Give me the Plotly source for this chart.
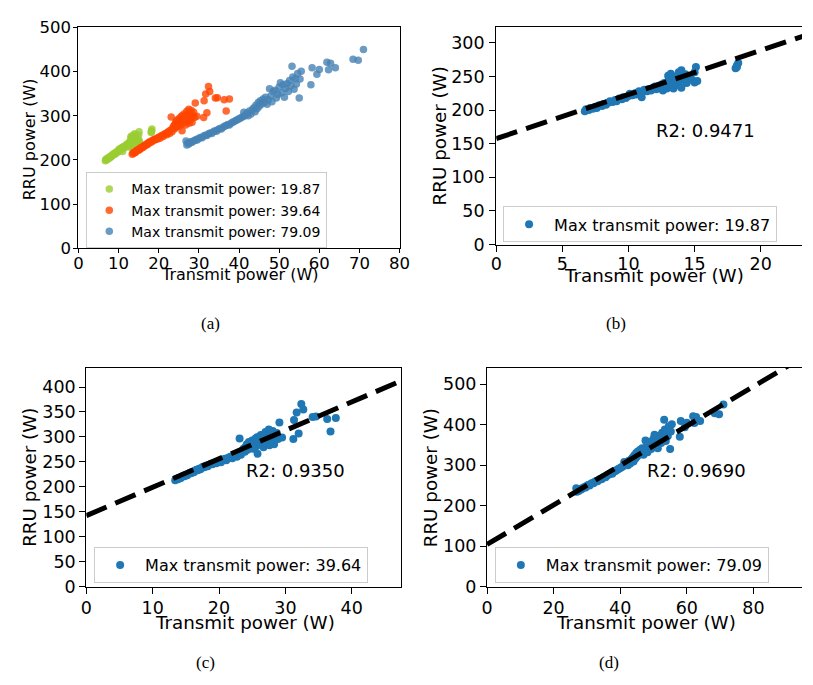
import plotly.graph_objects as go

# ------------------------------------------------------------------
# Measured RRU power vs. transmit power, grouped by max transmit power
# ------------------------------------------------------------------
max_power_labels = ["19.87", "39.64", "79.09"]

tx_19 = [6.7, 6.8, 7.0, 7.1, 7.3, 7.5, 7.6, 7.8, 8.0, 8.1, 8.3, 8.5, 8.6, 8.8,
         9.0, 9.1, 9.3, 9.5, 9.6, 9.8, 10.0, 10.1, 10.3, 10.5, 10.6, 10.8,
         11.0, 11.0, 11.2, 11.4, 11.5, 11.7, 11.9, 12.0, 12.1, 12.3, 12.4,
         12.5, 12.6, 12.7, 12.8, 12.9, 13.0, 13.0, 13.1, 13.2, 13.3, 13.4,
         13.5, 13.6, 13.7, 13.8, 13.9, 14.0, 14.0, 14.2, 14.3, 14.4, 14.6,
         14.8, 15.0, 15.1, 15.2, 15.0, 18.1, 18.2, 18.3, 18.2]
rru_19 = [198, 201, 200, 203, 202, 205, 203, 207, 206, 209, 208, 211, 213, 212,
          215, 213, 217, 216, 219, 218, 221, 224, 222, 225, 223, 228,
          226, 219, 230, 228, 231, 229, 233, 235, 231, 236, 233,
          238, 229, 240, 236, 232, 243, 251, 238, 254, 246, 232,
          241, 250, 237, 256, 244, 259, 233, 248, 253, 240, 250,
          245, 241, 264, 243, 256, 262, 266, 270, 264]

tx_39 = [13.4, 13.6, 13.8, 14.0, 14.2, 14.4, 14.6, 14.8, 15.0, 15.2, 15.4, 15.6,
         15.8, 16.0, 16.2, 16.4, 16.6, 16.8, 17.0, 17.2, 17.4, 17.6, 17.8, 18.0,
         18.3, 18.5, 18.8, 19.0, 19.3, 19.6, 19.8, 20.1, 20.3, 20.6, 20.9, 21.1,
         21.4, 21.7, 22.0, 22.2, 22.5, 22.7, 23.0, 23.1, 23.3, 23.5, 23.7, 23.9,
         24.0, 24.2, 24.3, 24.5, 24.6, 24.8, 25.0, 25.1, 25.3, 25.5, 25.6, 25.8,
         25.8, 26.0, 26.2, 26.3, 26.5, 26.7, 26.8, 27.0, 27.1, 27.3, 27.5, 27.6,
         27.8, 28.0, 28.1, 28.3, 28.5, 28.7, 28.9, 29.1, 29.5, 31.2, 31.3, 31.7,
         32.0, 32.4, 32.7, 34.1, 34.6, 36.3, 36.8, 37.6]
rru_39 = [213, 216, 215, 218, 217, 220, 222, 221, 224, 223, 226, 228,
          227, 230, 229, 232, 234, 233, 236, 235, 238, 240, 239, 242,
          241, 244, 246, 245, 248, 247, 250, 252, 249, 254, 256, 253,
          258, 260, 257, 262, 265, 260, 268, 297, 264, 272, 276, 270,
          280, 285, 274, 290, 278, 284, 293, 276, 288, 297, 281, 266,
          300, 290, 284, 304, 295, 279, 300, 310, 288, 296, 315, 283,
          305, 292, 312, 285, 300, 308, 296, 329, 299, 296, 334, 349,
          307, 366, 355, 340, 341, 336, 311, 338]

tx_79 = [26.8, 27.0, 27.2, 27.5, 27.8, 28.0, 28.3, 28.6, 29.0, 29.3, 29.6, 30.0,
         30.4, 30.8, 31.2, 31.6, 32.0, 32.4, 32.8, 33.2, 33.6, 34.0, 34.4, 34.8,
         35.2, 35.6, 36.0, 36.4, 36.8, 37.2, 37.6, 38.0, 38.4, 38.8, 39.2, 39.6,
         40.0, 40.4, 40.8, 41.2, 41.6, 41.2, 42.0, 42.3, 42.6, 43.0, 43.3, 43.7,
         44.0, 44.2, 44.5, 44.8, 45.0, 45.3, 45.6, 46.0, 46.3, 46.6, 47.0, 47.3,
         47.6, 47.9, 48.2, 48.5, 49.0, 49.3, 49.7, 50.0, 50.3, 50.6, 51.0, 51.3,
         51.6, 52.0, 52.3, 52.6, 52.9, 53.2, 53.4, 53.7, 54.0, 54.3, 54.6, 55.0,
         55.2, 55.5, 57.9, 58.2, 59.4, 60.0, 61.9, 62.3, 62.8, 64.0, 68.4, 69.7,
         71.0]
rru_79 = [243, 234, 238, 236, 239, 241, 240, 243, 244, 246, 245, 249,
          251, 250, 254, 256, 255, 259, 261, 260, 264, 266, 265, 269,
          271, 270, 274, 276, 278, 280, 279, 283, 285, 287, 289, 291,
          293, 295, 297, 299, 301, 308, 306, 300, 311, 304, 314, 318,
          309, 324, 316, 330, 321, 334, 326, 338, 330, 342, 326, 336,
          361, 345, 332, 355, 358, 340, 348, 365, 375, 352, 370, 342,
          362, 373, 355, 380, 368, 412, 388, 360, 384, 372, 396, 340,
          383, 401, 370, 409, 394, 405, 421, 404, 419, 409, 428, 426,
          450]

# Linear fits (intercept, slope) and their coefficients of determination
fit_intercept = [157.5, 142.0, 104.0]
fit_slope = [6.56, 5.70, 4.88]
r2_labels = ["0.9471", "0.9350", "0.9690"]

W, H = 813, 685


def px(x):
    return x / W


def py(y):
    return 1 - y / H


FONT = "DejaVu Sans"

fig = go.Figure()

# ---------------- panel (a): all three groups together ----------------
group_colors = ["#9acd32", "#ff4500", "#4682b4"]
groups = [(tx_19, rru_19), (tx_39, rru_39), (tx_79, rru_79)]
for (tx, rru), col, lab in zip(groups, group_colors, max_power_labels):
    fig.add_trace(go.Scatter(
        x=tx, y=rru, mode="markers", xaxis="x", yaxis="y",
        marker=dict(color=col, size=7.5, opacity=0.8, line=dict(width=0)),
        name=f"Max transmit power: {lab}", legend="legend"))

# ---------------- panels (b)-(d): one group each with its fit ----------------
panel_axes = [("x2", "y2", "legend2"), ("x3", "y3", "legend3"), ("x4", "y4", "legend4")]
x_ranges = [[0, 23.12], [0, 47.4], [0, 94.6]]
y_ranges = [[0, 323.7], [0, 438], [0, 540]]

for i, ((tx, rru), (xa, ya, lg)) in enumerate(zip(groups, panel_axes)):
    fig.add_trace(go.Scatter(
        x=tx, y=rru, mode="markers", xaxis=xa, yaxis=ya,
        marker=dict(color="#1f77b4", size=8, line=dict(width=0)),
        name=f"Max transmit power: {max_power_labels[i]}", legend=lg))
    x_end = x_ranges[i][1] * 1.02
    fig.add_trace(go.Scatter(
        x=[0, x_end],
        y=[fit_intercept[i], fit_intercept[i] + fit_slope[i] * x_end],
        mode="lines", xaxis=xa, yaxis=ya, showlegend=False,
        line=dict(color="black", width=5, dash="22px,9.5px")))


def axis(domain, rng, dtick, anchor, size, ticklen, standoff, mirror=True):
    return dict(domain=domain, range=rng, dtick=dtick, tick0=0, anchor=anchor,
                showline=True, linecolor="black", linewidth=1.2, mirror=mirror,
                ticks="outside", ticklen=ticklen, tickwidth=1.2, tickcolor="black",
                ticklabelstandoff=standoff,
                showgrid=False, zeroline=False,
                tickfont=dict(family=FONT, size=size, color="black"))


def legend_box(left, top, size, itemwidth):
    return dict(x=px(left), y=py(top), xanchor="left", yanchor="top",
                bgcolor="rgba(255,255,255,0.8)", bordercolor="#cccccc",
                borderwidth=1, itemwidth=itemwidth,
                font=dict(family=FONT, size=size, color="black"))


fig.update_layout(
    width=W, height=H, margin=dict(l=0, r=0, t=0, b=0),
    paper_bgcolor="white", plot_bgcolor="white",
    xaxis=axis([px(74), px(402)], [0, 80], 10, "y", 16.5, 4, -4),
    yaxis=axis([py(246), py(19)], [0, 500], 100, "x", 16.5, 4, -1),
    xaxis2=axis([px(500.7), 1], x_ranges[0], 5, "y2", 17.5, 6, -3),
    yaxis2=axis([py(242.3), py(18.3)], y_ranges[0], 50, "x2", 17.5, 6, 1, mirror=False),
    xaxis3=axis([px(82), px(403.3)], x_ranges[1], 10, "y3", 17.5, 6, -1),
    yaxis3=axis([py(594), py(369.3)], y_ranges[1], 50, "x3", 17.5, 6, 0),
    xaxis4=axis([px(491.3), 1], x_ranges[2], 20, "y4", 17.5, 6, -1),
    yaxis4=axis([py(594), py(369.3)], y_ranges[2], 100, "x4", 17.5, 6, 0, mirror=False),
    legend=legend_box(82, 168, 14, 34),
    legend2=legend_box(507.7, 203, 16, 40),
    legend3=legend_box(90, 553.5, 16, 40),
    legend4=legend_box(499.3, 553.5, 16, 40),
)

annotations = []

# axis titles
x_titles = [(239, 273.5, 16), (662, 274.5, 18.3), (244, 631.5, 18.3), (653.5, 631.5, 18.3)]
y_titles = [(23.5, 134, 16), (443, 130.3, 18.3), (24, 481.7, 18.3), (433, 481.7, 18.3)]
for (x, y, s) in x_titles:
    annotations.append(dict(text="Transmit power (W)", x=px(x), y=py(y), xref="paper",
                            yref="paper", xanchor="center", yanchor="middle",
                            showarrow=False, font=dict(family=FONT, size=s, color="black")))
for (x, y, s) in y_titles:
    annotations.append(dict(text="RRU power (W)", x=px(x), y=py(y), xref="paper",
                            yref="paper", xanchor="center", yanchor="middle",
                            textangle=-90, showarrow=False,
                            font=dict(family=FONT, size=s, color="black")))

# R2 labels placed in data coordinates of each panel
r2_pos = [(11.9, 170), (23.8, 232), (47.5, 286)]
for (xa, ya, _), (x, y), r2 in zip(panel_axes, r2_pos, r2_labels):
    annotations.append(dict(text=f"R2: {r2}", x=x, y=y, xref=xa, yref=ya,
                            xanchor="left", yanchor="middle", showarrow=False,
                            font=dict(family=FONT, size=18, color="black")))

# sub-figure captions
captions = [("(a)", 209, 323), ("(b)", 623, 323), ("(c)", 204, 672), ("(d)", 616, 672)]
for text, x, y in captions:
    annotations.append(dict(text=text, x=px(x), y=py(y), xref="paper", yref="paper",
                            xanchor="center", yanchor="middle", showarrow=False,
                            font=dict(family="Liberation Serif", size=17, color="black")))

fig.update_layout(annotations=annotations)

fig.write_html("out.html")
